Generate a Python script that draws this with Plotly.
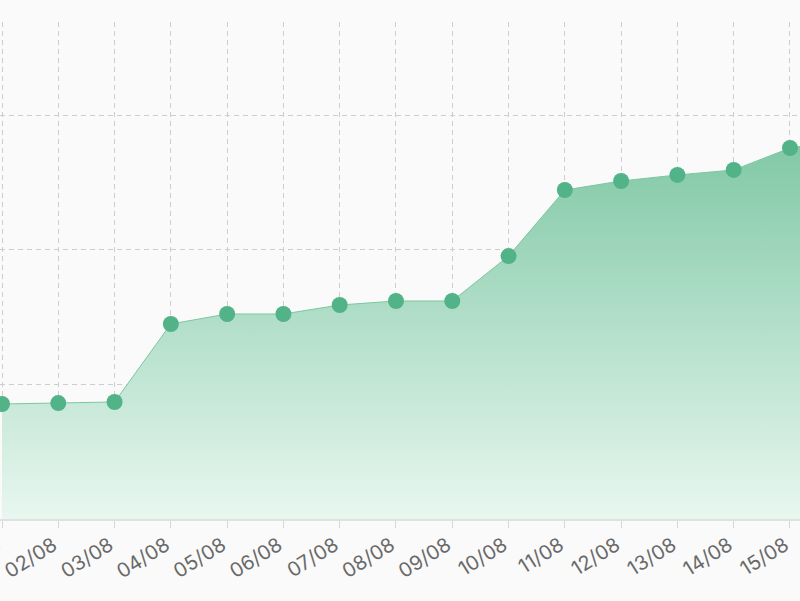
import plotly.graph_objects as go

dates = ["01/08", "02/08", "03/08", "04/08", "05/08", "06/08", "07/08", "08/08",
         "09/08", "10/08", "11/08", "12/08", "13/08", "14/08", "15/08", "16/08"]
values = [85.5, 86.2, 87.0, 145.0, 152.4, 152.4, 159.1, 162.1,
          162.1, 195.5, 244.6, 251.3, 255.8, 259.5, 275.8, 282.0]

fig = go.Figure()
fig.add_trace(go.Scatter(
    x=dates, y=values, mode="lines+markers",
    line=dict(color="rgb(125,198,162)", width=1),
    marker=dict(size=16, color="rgb(82,178,136)"),
    fill="tozeroy",
    fillgradient=dict(type="vertical",
                      colorscale=[[0, "rgb(232,247,240)"], [1, "rgb(128,200,165)"]]),
    hoverinfo="skip",
))

grid = dict(gridcolor="rgb(205,205,205)", gridwidth=1, griddash="5px,4px")
fig.update_layout(
    width=800, height=601,
    margin=dict(l=0, r=0, t=22, b=82),
    paper_bgcolor="#fafafa", plot_bgcolor="#fafafa",
    showlegend=False,
    font=dict(family="Inter, Noto Sans, sans-serif", color="#666", size=16),
    xaxis=dict(type="category", range=[-0.0355, 14.178], showgrid=True, **grid,
               automargin=False,
               ticks="outside", ticklen=7, tickcolor="rgb(215,215,215)",
               showline=True, linecolor="rgb(225,225,225)", linewidth=2,
               tickangle=-32, ticklabelshift=-5, ticklabelstandoff=-2,
               tickfont=dict(size=20, color="#6a6a6a")),
    yaxis=dict(range=[0, 369.5], dtick=100, showgrid=True, **grid,
               automargin=False,
               showticklabels=False, zeroline=False),
)
fig.write_html("out.html", config={"displayModeBar": False},
               post_script="document.body.style.margin='0';document.body.style.background='#fafafa';")
